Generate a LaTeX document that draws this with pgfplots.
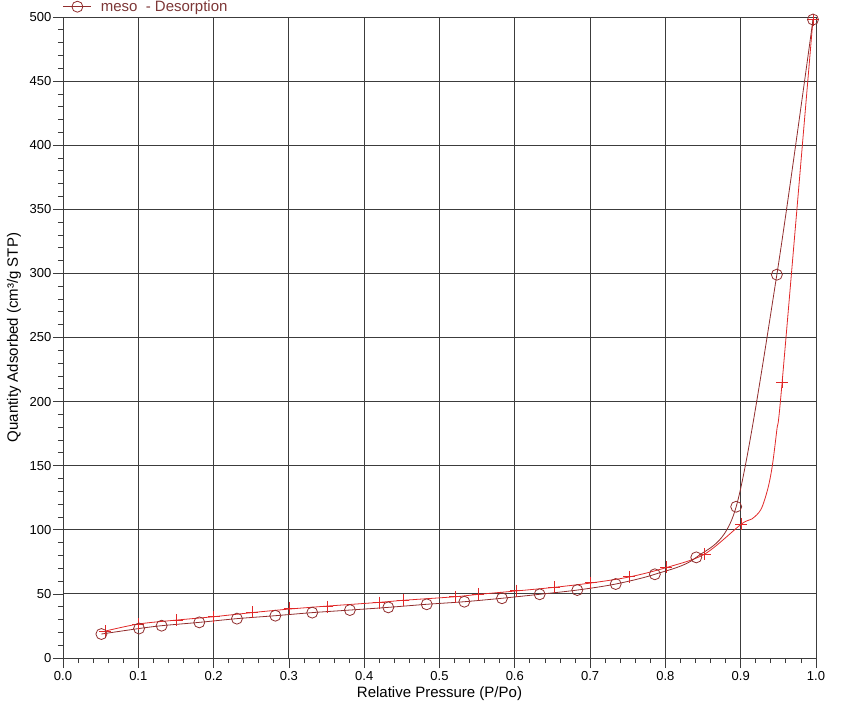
\documentclass[border=0pt]{standalone}
\usepackage{fontspec}
\setmainfont{Liberation Sans}
\usepackage{pgfplots}
\pgfplotsset{compat=1.18}
\definecolor{adsred}{RGB}{225,40,40}
\definecolor{desred}{RGB}{145,45,45}
\definecolor{legtxt}{RGB}{125,55,55}
\definecolor{gridc}{RGB}{60,60,60}
\begin{document}
\begin{tikzpicture}
\useasboundingbox (-63pt,-58pt) rectangle (792pt,658pt);
\begin{axis}[
  scale only axis, width=753pt, height=641pt,
  xmin=0, xmax=1, ymin=0, ymax=500,
  xtick={0,0.1,0.2,0.3,0.4,0.5,0.6,0.7,0.8,0.9,1.0},
  ytick={0,50,100,150,200,250,300,350,400,450,500},
  minor x tick num=4, minor y tick num=4,
  tick align=outside, xtick pos=left, ytick pos=left,
  major tick length=10pt, minor tick length=5pt,
  tick style={gridc, line width=0.8pt},
  grid=major, major grid style={gridc, line width=0.9pt},
  axis line style={gridc, line width=0.9pt},
  clip=false,
  ticklabel style={font=\fontsize{13}{15}\selectfont},
  /pgf/number format/assume math mode=true,
  xticklabel style={/pgf/number format/.cd, fixed, fixed zerofill, precision=1},
  yticklabel style={inner xsep=1.5pt, /pgf/number format/.cd, fixed, precision=0},
  xlabel={Relative Pressure (P/Po)},
  ylabel={Quantity Adsorbed (cm³/g STP)},
  every axis label/.append style={font=\fontsize{15}{17}\selectfont},
  xlabel style={at={(axis description cs:0.5,0)}, anchor=base, yshift=-39.3pt},
  ylabel style={at={(axis description cs:0,0.5)}, anchor=center, yshift=49pt},
  legend style={at={(axis description cs:0,1)}, anchor=west, yshift=10.3pt,
    draw=none, fill=none, inner sep=0pt, outer sep=0pt,
    nodes={inner sep=0pt, outer sep=0pt},
    column sep=9pt,
    font=\fontsize{15}{17}\selectfont\color{legtxt}},
  legend cell align=left,
  legend image code/.code={\draw[mark repeat=2,mark phase=2] plot coordinates {(0pt,0pt) (14pt,0pt) (28pt,0pt)};},
]
% Adsorption line (curve as drawn)
\addplot[adsred, line width=0.8pt, smooth, tension=0.5, forget plot] coordinates {
(0.056,21.0) (0.100,26.5) (0.151,29.6) (0.200,32.2) (0.251,35.4) (0.301,38.2)
(0.351,40.5) (0.420,43.4) (0.452,45.0) (0.521,47.8) (0.551,49.6) (0.602,52.3)
(0.652,55.1) (0.701,58.5) (0.752,63.2) (0.801,70.5) (0.852,81.0) (0.901,104.5)
(0.915,108.5) (0.927,116) (0.936,132) (0.942,150) (0.948,178) (0.955,215) (0.996,498)};
% Adsorption points
\addplot[only marks, mark=+, mark size=6pt, adsred, mark options={line width=0.8pt}, forget plot] coordinates {
(0.056,21.0) (0.100,26.5) (0.151,29.6) (0.200,32.2) (0.251,35.6) (0.301,38.7)
(0.351,40.0) (0.420,43.2) (0.452,45.2) (0.521,47.8) (0.551,50.0) (0.602,52.5)
(0.652,55.1) (0.701,58.7) (0.752,63.4) (0.801,70.8) (0.852,81.0) (0.901,104.5)
(0.955,215) (0.996,498)};
% Desorption
\addplot[desred, line width=0.8pt, smooth, tension=0.5, mark=o, mark size=5.5pt, mark options={line width=0.8pt, solid}] coordinates {
(0.051,18.7) (0.101,23.0) (0.131,25.2) (0.181,27.8) (0.231,30.7) (0.282,33.0)
(0.331,35.4) (0.381,37.4) (0.432,39.5) (0.483,41.9) (0.533,43.9) (0.583,46.6)
(0.633,49.7) (0.683,53.0) (0.734,57.7) (0.786,65.3) (0.841,78.5) (0.894,118)
(0.948,299) (0.996,498)};
\addlegendentry{meso\ \ - Desorption}
\end{axis}
\end{tikzpicture}
\end{document}
